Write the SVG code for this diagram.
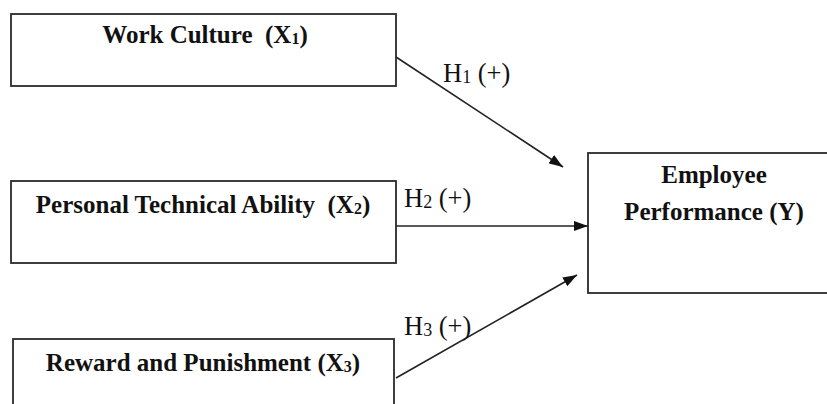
<svg xmlns="http://www.w3.org/2000/svg" width="827" height="404" viewBox="0 0 827 404">
<style>
.box{fill:#fff;stroke:#2a2a2a;stroke-width:1.8}
.t{font-family:"Liberation Serif","Times New Roman",serif;font-weight:bold;font-size:25px;fill:#111;text-anchor:middle}
.lbl{font-family:"Liberation Serif","Times New Roman",serif;font-size:26.5px;fill:#111}
.c{stroke:#222;stroke-width:1.6;fill:none;marker-end:url(#ah)}
</style>
<defs>
<marker id="ah" markerWidth="14" markerHeight="10" refX="14" refY="5" orient="auto" markerUnits="userSpaceOnUse">
<path d="M0,0 L14,5 L0,10 Z" fill="#111"/>
</marker>
</defs>
<rect width="827" height="404" fill="#fff"/>
<g id="connectors">
<line class="c" x1="396" y1="57" x2="563" y2="167"/>
<line class="c" x1="396" y1="226" x2="588" y2="226"/>
<line class="c" x1="396" y1="378" x2="577" y2="275"/>
<text class="lbl" x="443" y="82">H<tspan font-size="18" dy="1">1</tspan><tspan dy="-1"> (+)</tspan></text>
<text class="lbl" x="404" y="207">H<tspan font-size="18" dy="1">2</tspan><tspan dy="-1"> (+)</tspan></text>
<text class="lbl" x="404" y="335">H<tspan font-size="18" dy="1">3</tspan><tspan dy="-1"> (+)</tspan></text>
</g>
<g id="work-culture">
<rect class="box" x="11" y="14" width="385" height="72"/>
<text class="t" x="205" y="43">Work Culture &#160;(X<tspan font-size="16" dy="1">1</tspan><tspan dy="-1">)</tspan></text>
</g>
<g id="personal-technical-ability">
<rect class="box" x="11" y="181" width="385" height="82"/>
<text class="t" x="203" y="213">Personal Technical Ability &#160;(X<tspan font-size="16" dy="1">2</tspan><tspan dy="-1">)</tspan></text>
</g>
<g id="reward-punishment">
<rect class="box" x="13" y="339" width="381" height="90"/>
<text class="t" x="203" y="371">Reward and Punishment (X<tspan font-size="16" dy="1">3</tspan><tspan dy="-1">)</tspan></text>
</g>
<g id="employee-performance">
<rect class="box" x="588" y="153" width="260" height="140"/>
<text class="t" x="714" y="183">Employee</text>
<text class="t" x="714" y="220">Performance (Y)</text>
</g>
</svg>
